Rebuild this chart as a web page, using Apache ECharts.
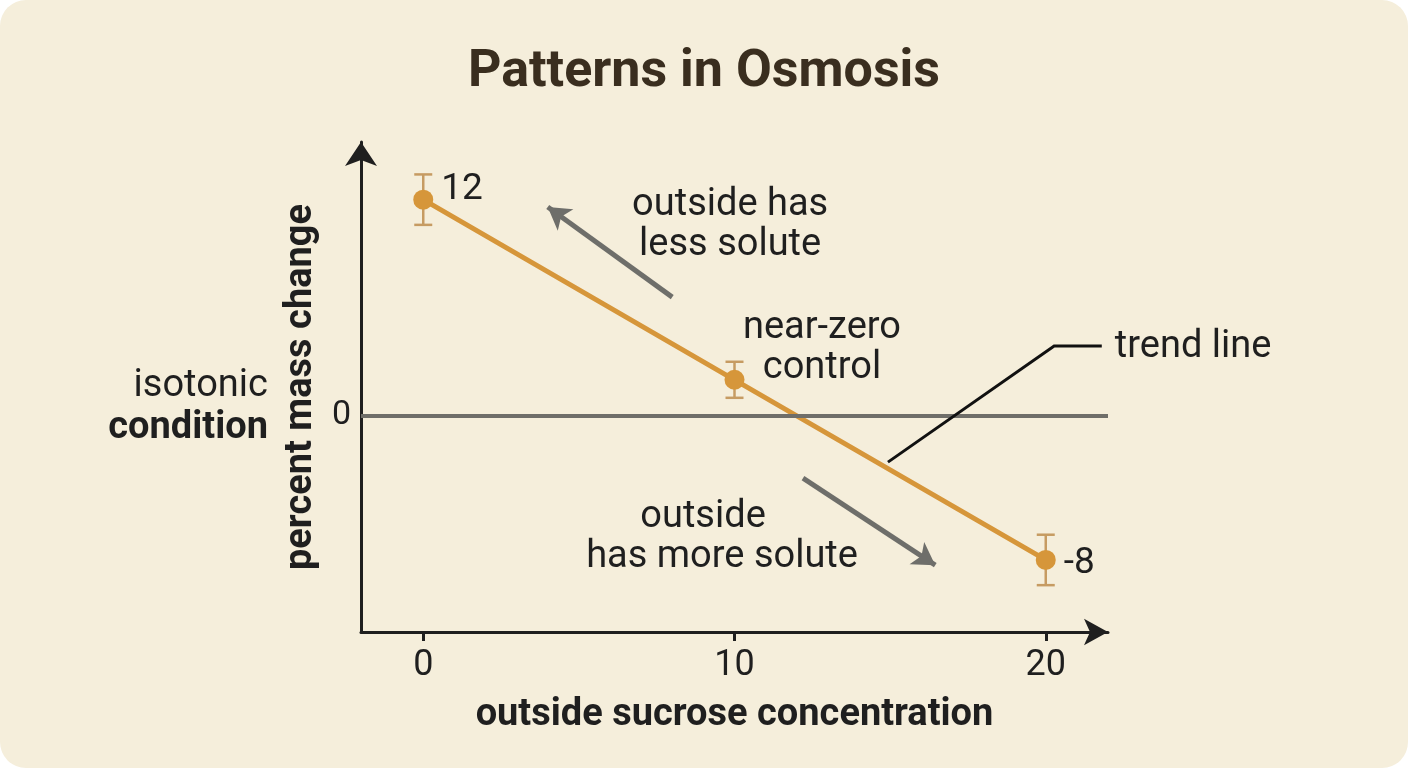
<!DOCTYPE html>
<html lang="en">
<head>
    <meta charset="utf-8">
    <script src="https://cdn.jsdelivr.net/npm/echarts@6/dist/echarts.min.js"></script>
    <title>Patterns in Osmosis</title>
    <style>
        html, body { margin: 0; padding: 0; background: #ffffff; width: 100%; height: 100%; }
        #container { width: 1408px; height: 768px; background: #f5eedb; border-radius: 26px; overflow: hidden; }
    </style>
</head>
<body>
<div id="container"></div>

<script type="text/javascript">
    // data
    const concentrations = [0, 10, 20];
    const massChange = [12, 2, -8];
    const errors = [1.4, 1.0, 1.4];
    const xTicks = [0, 10, 20];
    const yTicks = [0];

    // annotation anchors, in data units
    const arrowLess = [[8, 6.59], [4, 11.59]];
    const arrowMore = [[12.2, -3.46], [16.45, -8.29]];
    const leader = [[14.93, -2.57], [20.27, 3.87], [21.8, 3.87]];

    const font = 'Roboto, "Noto Sans", sans-serif';
    const orange = '#d6963a';
    const ink = '#1f1f1f';

    const dom = document.getElementById('container');
    const myChart = echarts.init(dom, null, {renderer: 'canvas'});

    const points = concentrations.map((x, i) => [x, massChange[i]]);
    const bars = concentrations.map((x, i) => [x, massChange[i], errors[i]]);

    myChart.setOption({
        animation: false,
        backgroundColor: 'transparent',
        textStyle: {fontFamily: font},
        title: {
            text: 'Patterns in Osmosis',
            left: 'center',
            top: 42,
            textStyle: {fontSize: 52, fontWeight: 'bold', color: '#3a2e1f', fontFamily: font}
        },
        grid: {left: 361, right: 300, top: 142, bottom: 136},
        xAxis: {
            type: 'value',
            min: -2,
            max: 22,
            name: 'outside sucrose concentration',
            nameLocation: 'middle',
            nameGap: 64,
            nameTextStyle: {fontSize: 38, fontWeight: 'bold', color: ink},
            axisLine: {
                show: true,
                onZero: false,
                symbol: ['none', 'arrow'],
                symbolSize: [20, 24],
                lineStyle: {color: ink, width: 3}
            },
            axisTick: {show: true, customValues: xTicks, length: 9, lineStyle: {color: ink, width: 3}},
            axisLabel: {customValues: xTicks, fontSize: 36, color: ink, margin: 16},
            splitLine: {show: false}
        },
        yAxis: {
            type: 'value',
            min: -12,
            max: 15.2,
            interval: 3,
            name: 'percent mass change',
            nameLocation: 'middle',
            nameGap: 27,
            nameRotate: 90,
            nameTextStyle: {fontSize: 38, fontWeight: 'bold', color: ink},
            axisLine: {
                show: true,
                onZero: false,
                symbol: ['none', 'arrow'],
                symbolSize: [24, 24],
                lineStyle: {color: ink, width: 3}
            },
            axisTick: {show: false},
            axisLabel: {customValues: yTicks, fontSize: 34, color: ink, margin: 10},
            splitLine: {show: false}
        },
        series: [
            {
                type: 'custom',
                name: 'error',
                z: 1,
                data: bars,
                renderItem: function (params, api) {
                    const x = api.value(0);
                    const y = api.value(1);
                    const e = api.value(2);
                    const top = api.coord([x, y + e]);
                    const bot = api.coord([x, y - e]);
                    const half = 9;
                    const style = {stroke: '#c69b62', lineWidth: 2.5};
                    return {
                        type: 'group',
                        children: [
                            {type: 'line', shape: {x1: top[0], y1: top[1], x2: bot[0], y2: bot[1]}, style: style},
                            {type: 'line', shape: {x1: top[0] - half, y1: top[1], x2: top[0] + half, y2: top[1]}, style: style},
                            {type: 'line', shape: {x1: bot[0] - half, y1: bot[1], x2: bot[0] + half, y2: bot[1]}, style: style}
                        ]
                    };
                },
                // isotonic baseline
                markLine: {
                    silent: true,
                    symbol: 'none',
                    label: {show: false},
                    lineStyle: {color: '#6f6e69', width: 4, type: 'solid'},
                    data: [{yAxis: 0}]
                }
            },
            {
                type: 'line',
                name: 'mass change',
                z: 3,
                data: points,
                symbol: 'circle',
                symbolSize: 20,
                itemStyle: {color: orange},
                lineStyle: {color: orange, width: 5},
                label: {
                    show: true,
                    position: 'right',
                    distance: 8,
                    fontSize: 37,
                    color: ink,
                    formatter: p => (p.dataIndex === 1 ? '' : String(p.value[1]))
                },
                labelLayout: function (p) {
                    return p.dataIndex === 0 ? {dy: -10} : {dy: 4};
                },
                markLine: {
                    silent: true,
                    symbol: ['none', 'arrow'],
                    symbolSize: [20, 22],
                    label: {show: false},
                    lineStyle: {color: '#6e6e6a', width: 5, type: 'solid'},
                    z: 2,
                    data: [
                        [{coord: arrowLess[0]}, {coord: arrowLess[1]}],
                        [{coord: arrowMore[0]}, {coord: arrowMore[1]}]
                    ]
                }
            }
        ]
    });

    // text notes and the leader line are placed from data positions
    function px(p) {
        return myChart.convertToPixel({gridIndex: 0}, p);
    }

    function note(text, at, align, bold) {
        const p = px(at);
        return {
            type: 'text',
            x: p[0],
            y: p[1],
            z: 10,
            style: {
                text: text,
                fill: ink,
                font: (bold ? 'bold ' : '') + '38px ' + font,
                textAlign: align,
                textVerticalAlign: 'middle'
            }
        };
    }

    myChart.setOption({
        graphic: [
            note('outside has', [9.86, 11.7], 'center'),
            note('less solute', [9.86, 9.48], 'center'),
            note('near-zero', [12.81, 4.87], 'center'),
            note('control', [12.81, 2.6], 'center'),
            note('trend line', [22.22, 3.82], 'left'),
            note('outside', [8.99, -5.62], 'center'),
            note('has more solute', [9.6, -7.84], 'center'),
            note('isotonic', [-4.99, 1.65], 'right'),
            note('condition', [-4.99, -0.68], 'right', true),
            {
                type: 'polyline',
                z: 10,
                shape: {points: leader.map(px)},
                style: {stroke: '#111111', lineWidth: 3, fill: null}
            }
        ]
    });

    window.onresize = function () {
        myChart.resize();
    };
</script>
</body>
</html>
